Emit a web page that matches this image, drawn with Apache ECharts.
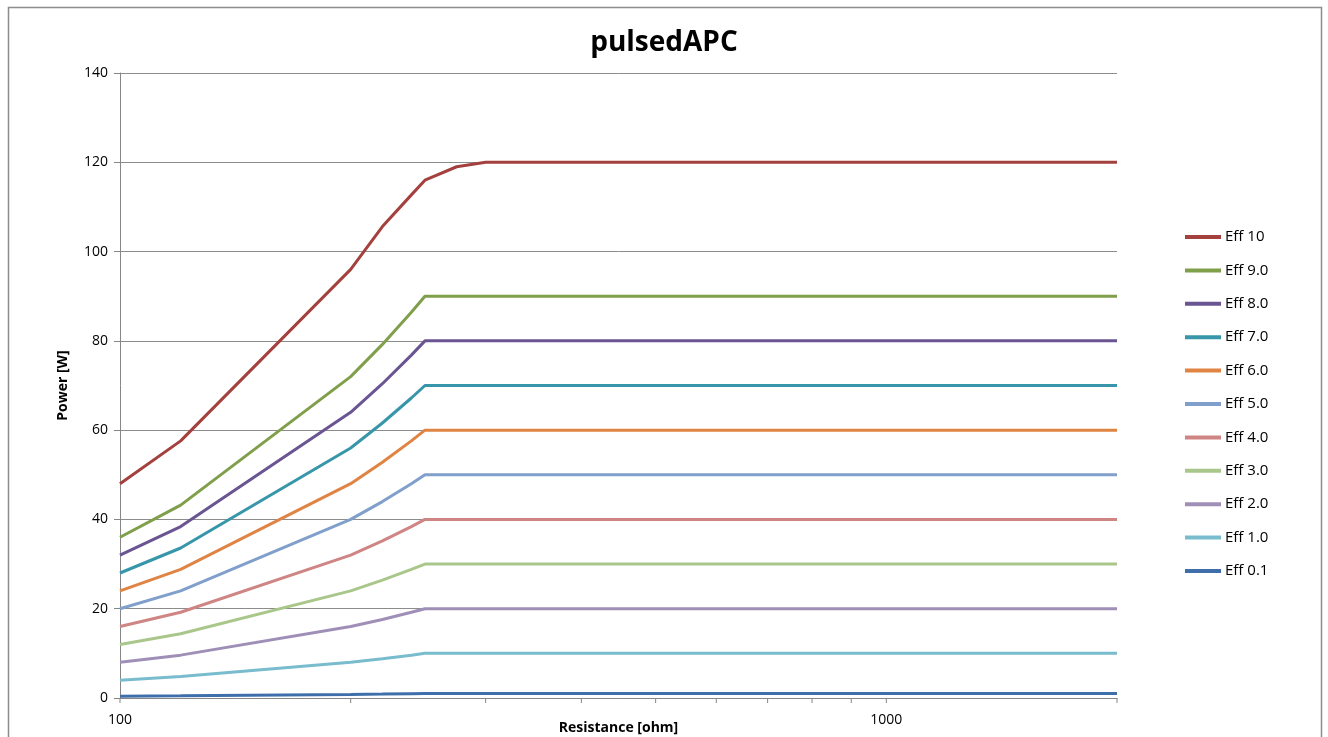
<!DOCTYPE html>
<html>
<head>
<meta charset="utf-8">
<title>pulsedAPC</title>
<script src="https://cdn.jsdelivr.net/npm/echarts@6/dist/echarts.min.js"></script>
<style>
  html, body { margin: 0; padding: 0; background: #fff; overflow: hidden; }
  #chart { width: 1328px; height: 737px; }
</style>
</head>
<body>
<div id="chart"></div>
<script>
// resistance values [ohm] shared by all series
var resistance = [100, 120, 200, 220, 240, 250, 275, 300, 2000];

// power [W] per efficiency setting
var eff10 = [48, 57.6, 96, 105.6, 112.7, 116, 119, 120, 120];
var eff9 = [36, 43.2, 72, 79.2, 86.4, 90, 90, 90, 90];
var eff8 = [32, 38.4, 64, 70.4, 76.8, 80, 80, 80, 80];
var eff7 = [28, 33.6, 56, 61.6, 67.2, 70, 70, 70, 70];
var eff6 = [24, 28.8, 48, 52.8, 57.6, 60, 60, 60, 60];
var eff5 = [20, 24, 40, 44, 48, 50, 50, 50, 50];
var eff4 = [16, 19.2, 32, 35.2, 38.4, 40, 40, 40, 40];
var eff3 = [12, 14.4, 24, 26.4, 28.8, 30, 30, 30, 30];
var eff2 = [8, 9.6, 16, 17.6, 19.2, 20, 20, 20, 20];
var eff1 = [4, 4.8, 8, 8.8, 9.6, 10, 10, 10, 10];
var eff01 = [0.4, 0.48, 0.8, 0.88, 0.96, 1, 1, 1, 1];

var seriesNames = ['Eff 10', 'Eff 9.0', 'Eff 8.0', 'Eff 7.0', 'Eff 6.0', 'Eff 5.0',
                   'Eff 4.0', 'Eff 3.0', 'Eff 2.0', 'Eff 1.0', 'Eff 0.1'];
var seriesValues = [eff10, eff9, eff8, eff7, eff6, eff5, eff4, eff3, eff2, eff1, eff01];
var colors = ['#a4403d', '#7f9f4a', '#6a5592', '#3796a9', '#e08444', '#809fcb',
              '#cf8584', '#a9c78b', '#9f8fb7', '#78bccd', '#3e6fab'];

// x axis ticks (log scale, excel style marks at every 100)
var xTicks = [100, 200, 300, 400, 500, 600, 700, 800, 900, 1000, 2000];

var fontFamily = '"Open Sans", "Noto Sans", sans-serif';

var series = [];
// flat ones first so the steep ones stay on top like excel
for (var i = seriesNames.length - 1; i >= 0; i--) {
    var pts = [];
    for (var j = 0; j < resistance.length; j++) {
        pts.push([resistance[j], seriesValues[i][j]]);
    }
    series.push({
        name: seriesNames[i],
        type: 'line',
        data: pts,
        showSymbol: false,
        symbol: 'none',
        lineStyle: { width: 3, color: colors[i] },
        itemStyle: { color: colors[i] },
        animation: false
    });
}

// tick marks under the x axis line
series.push({
    type: 'custom',
    data: xTicks.map(function (v) { return [v, 0]; }),
    silent: true,
    clip: false,
    animation: false,
    renderItem: function (params, api) {
        var p = api.coord([api.value(0), 0]);
        return {
            type: 'line',
            shape: { x1: p[0], y1: p[1], x2: p[0], y2: p[1] + 5 },
            style: { stroke: '#868686', lineWidth: 1 }
        };
    }
});

var myChart = echarts.init(document.getElementById('chart'));

var option = {
    backgroundColor: '#fff',
    color: colors,
    animation: false,
    title: {
        text: 'pulsedAPC',
        left: 'center',
        top: 24,
        textStyle: { fontFamily: fontFamily, fontSize: 28, fontWeight: 'bold', color: '#000' }
    },
    graphic: [{
        type: 'rect',
        shape: { x: 8.5, y: 7.5, width: 1313, height: 760 },
        style: { fill: 'none', stroke: '#8c8c8c', lineWidth: 1.5 },
        silent: true
    }],
    legend: {
        orient: 'vertical',
        left: 1185,
        top: 229,
        padding: 0,
        data: seriesNames,
        icon: 'rect',
        itemWidth: 36,
        itemHeight: 4,
        itemGap: 17.4,
        textStyle: { fontFamily: fontFamily, fontSize: 15, lineHeight: 16, color: '#000', padding: [0, 0, 0, -1] }
    },
    grid: {
        left: 120,
        top: 73,
        right: 211,
        bottom: 39,
        outerBoundsMode: 'none',
        containLabel: false
    },
    xAxis: {
        type: 'log',
        logBase: 10,
        min: 100,
        max: 2000,
        name: 'Resistance [ohm]',
        nameLocation: 'middle',
        nameMoveOverlap: false,
        nameGap: 23,
        nameTextStyle: { fontFamily: fontFamily, fontSize: 14, fontWeight: 'bold', color: '#000' },
        axisLine: { lineStyle: { color: '#868686', width: 1 } },
        axisTick: { show: false },
        splitLine: { show: false },
        minorTick: { show: false },
        axisLabel: {
            fontFamily: fontFamily,
            fontSize: 14,
            color: '#000',
            margin: 15,
            formatter: function (v) {
                return (v === 100 || v === 1000) ? String(v) : '';
            }
        }
    },
    yAxis: {
        type: 'value',
        min: 0,
        max: 140,
        interval: 20,
        name: 'Power [W]',
        nameLocation: 'middle',
        nameGap: 50,
        nameTextStyle: { fontFamily: fontFamily, fontSize: 14, fontWeight: 'bold', color: '#000' },
        axisLine: { show: true, lineStyle: { color: '#868686', width: 1 } },
        axisTick: { show: true, length: 6, lineStyle: { color: '#868686' } },
        splitLine: { show: true, lineStyle: { color: '#8c8c8c', width: 1 } },
        axisLabel: { fontFamily: fontFamily, fontSize: 14, color: '#000', margin: 12 }
    },
    series: series
};

myChart.setOption(option);
window.onresize = myChart.resize;
</script>
</body>
</html>
